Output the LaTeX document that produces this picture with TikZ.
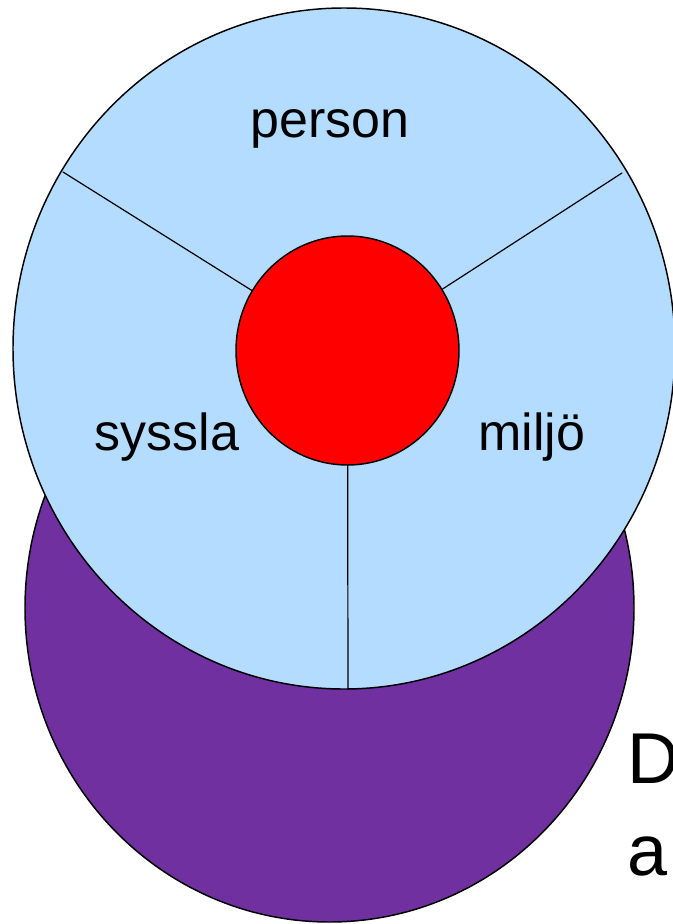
\documentclass[tikz,border=0pt]{standalone}
\usepackage{fontspec}
\setmainfont{Liberation Sans}
\usetikzlibrary{shapes.geometric}
\definecolor{discblue}{RGB}{180,220,255}
\definecolor{basepurple}{RGB}{112,48,160}
\begin{document}
\begin{tikzpicture}[x=0.75pt,y=-0.75pt,line cap=round,line join=round,font=\fontsize{39}{47}\selectfont,
		rim/.style={ellipse,draw,line width=1.1pt,inner sep=0pt,outer sep=0pt},
		spoke/.style={line width=0.9pt},
		bigtext/.style={font=\fontsize{54}{65}\selectfont,anchor=base west,inner sep=0pt}]
			\useasboundingbox (0,0) rectangle (672,924);
			\node[rim,fill=basepurple,minimum width=456.75pt,minimum height=471pt](base) at (329.5,608){};
			\node[rim,fill=discblue,minimum width=496.5pt,minimum height=510.75pt](disc) at (344,348.5){};
			\node[rim,fill=red,minimum width=167.25pt,minimum height=171.75pt](core) at (347.5,350.5){};
			\path (63,172)coordinate(rimL) (622,173)coordinate(rimR) (348,689)coordinate(rimB);
			\draw[spoke] (core)--(rimL)  (core)--(rimR)  (core)--(rimB);
			\node[anchor=base](person) at (330,137){person};
			\node[anchor=base](syssla) at (167,450){syssla};
			\node[anchor=base](miljo) at (532,450){miljö};
			\node[bigtext](D) at (627,783){D};
			\node[bigtext](a) at (627,875){a};
		\end{tikzpicture}
\end{document}
